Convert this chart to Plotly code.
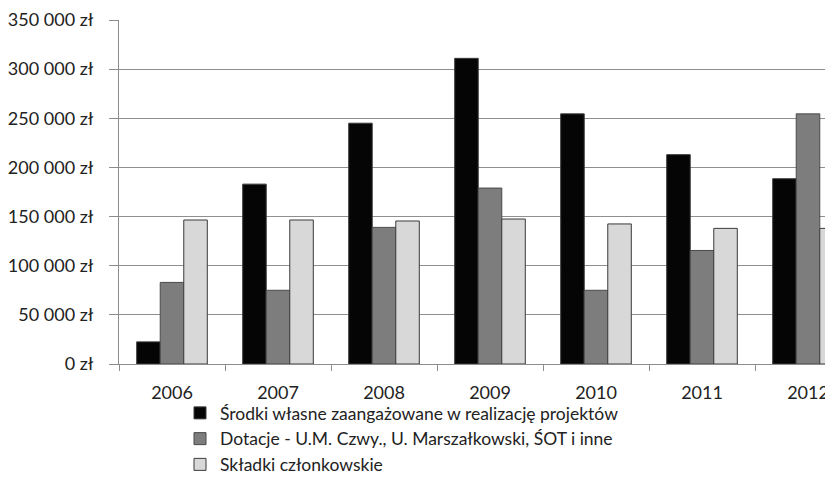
import plotly.graph_objects as go

years = ["2006", "2007", "2008", "2009", "2010", "2011", "2012"]
srodki = [22500, 183000, 245000, 311000, 254500, 213000, 188500]
dotacje = [83000, 75000, 139000, 179000, 75000, 115500, 254500]
skladki = [146500, 146500, 145500, 147500, 142500, 138000, 138000]

names = [
    "Środki własne zaangażowane w realizację projektów",
    "Dotacje - U.M. Czwy., U. Marszałkowski, ŚOT i inne",
    "Składki członkowskie",
]
series = [srodki, dotacje, skladki]
fills = ["#050505", "#7d7d7d", "#d8d8d8"]
borders = ["#3a3a3a", "#4a4a4a", "#3a3a3a"]

fig = go.Figure()
for n, v, f, b in zip(names, series, fills, borders):
    fig.add_trace(go.Bar(x=years, y=v, name=n, marker=dict(color=f, line=dict(color=b, width=1))))

font = "Lato, 'Open Sans', sans-serif"
OFF = 8  # default body margin of the page
W, H = 833 - OFF, 477 - OFF
ml, mt = 119 - OFF, 20 - OFF
plot_bottom = 364 - OFF
mb = H - plot_bottom
catw = 106.0
plotw = W - ml
ploth = plot_bottom - mt
xmax = -0.5 + plotw / catw

legend_top = 395 - OFF

fig.update_layout(
    width=W, height=H,
    margin=dict(l=ml, r=0, t=mt, b=mb, autoexpand=False),
    plot_bgcolor="white", paper_bgcolor="white",
    barmode="group", bargap=0.334, bargroupgap=0,
    font=dict(family=font, size=18, color="#222"),
    showlegend=True,
    legend=dict(orientation="v", x=(180 - OFF - ml) / plotw, xanchor="left",
                y=-(legend_top - plot_bottom) / ploth, yanchor="top", bgcolor="rgba(0,0,0,0)",
                font=dict(size=17.5, color="#222"), traceorder="normal", itemwidth=30),
    xaxis=dict(range=[-0.5, xmax], showline=True, linecolor="#8c8c8c", linewidth=1,
               ticks="outside", tickson="boundaries", ticklen=6, tickcolor="#8c8c8c",
               ticklabelstandoff=12,
               tickfont=dict(size=18), showgrid=False, fixedrange=True),
    yaxis=dict(range=[0, 350000], tickvals=[0, 50000, 100000, 150000, 200000, 250000, 300000, 350000],
               ticktext=["0 zł", "50 000 zł", "100 000 zł", "150 000 zł", "200 000 zł", "250 000 zł", "300 000 zł", "350 000 zł"],
               showgrid=True, gridcolor="#8f8f8f", gridwidth=1,
               showline=True, linecolor="#8c8c8c", linewidth=1,
               ticks="outside", ticklen=9, tickcolor="#8c8c8c", ticklabelstandoff=12,
               zeroline=False, tickfont=dict(size=18), fixedrange=True),
)

fig.write_html("out.html")
